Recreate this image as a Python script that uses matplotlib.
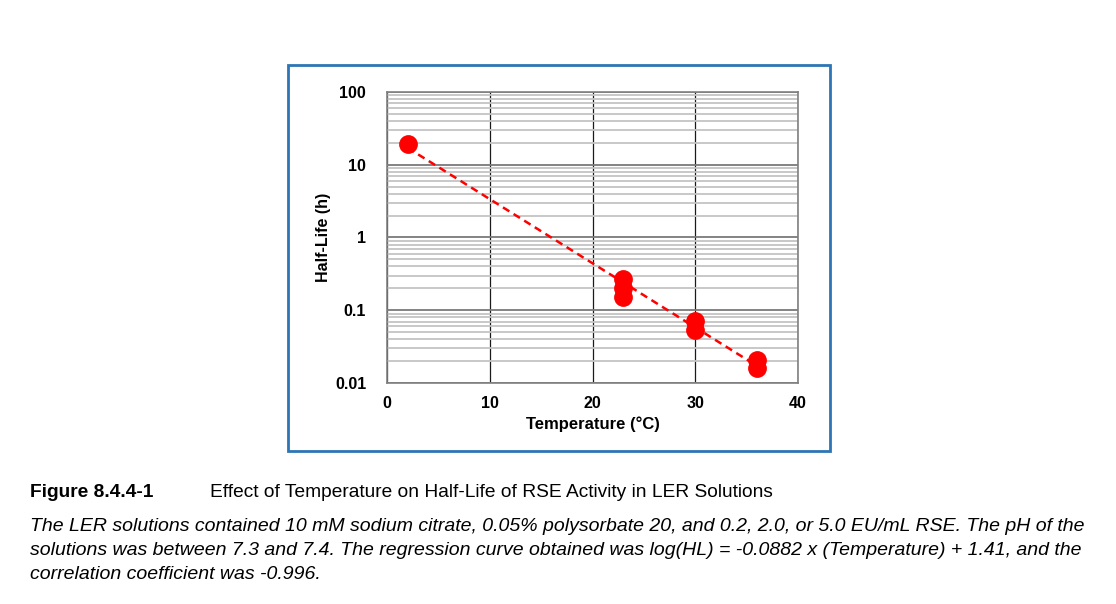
import matplotlib
matplotlib.use("Agg")
import matplotlib.pyplot as plt
from matplotlib.patches import Rectangle
from matplotlib.ticker import LogLocator, FixedLocator, NullFormatter

# ---- data ----
temperature = [2, 23, 23, 23, 30, 30, 36, 36]
half_life = [19, 0.27, 0.20, 0.15, 0.072, 0.053, 0.021, 0.016]

# regression line end points: log(HL) = -0.0882 x T + 1.41
trend_x = [2, 36]
trend_y = [17.1, 0.0172]

x_ticks = [0, 10, 20, 30, 40]
y_ticks = [0.01, 0.1, 1, 10, 100]
y_tick_labels = ["0.01", "0.1", "1", "10", "100"]

caption_num = "Figure 8.4.4-1"
caption_title = "Effect of Temperature on Half-Life of RSE Activity in LER Solutions"
caption_lines = [
    "The LER solutions contained 10 mM sodium citrate, 0.05% polysorbate 20, and 0.2, 2.0, or 5.0 EU/mL RSE. The pH of the",
    "solutions was between 7.3 and 7.4. The regression curve obtained was log(HL) = -0.0882 x (Temperature) + 1.41, and the",
    "correlation coefficient was -0.996.",
]

W, H = 1116, 604
fig = plt.figure(figsize=(W / 100, H / 100), dpi=100)

# blue frame around the chart
fig.patches.append(Rectangle((288 / W, 1 - 451 / H), (830 - 288) / W, (451 - 65) / H,
                             transform=fig.transFigure, fill=False,
                             edgecolor="#2e75b6", linewidth=2))

ax = fig.add_axes([387 / W, 1 - 383 / H, (798 - 387) / W, (383 - 92) / H])
ax.set_yscale("log")
ax.set_xlim(0, 40)
ax.set_ylim(0.01, 100)

ax.yaxis.set_major_locator(FixedLocator(y_ticks))
ax.set_yticklabels(y_tick_labels)
ax.yaxis.set_minor_locator(LogLocator(base=10, subs=range(2, 10)))
ax.yaxis.set_minor_formatter(NullFormatter())
ax.set_xticks(x_ticks)

ax.grid(which="minor", axis="y", color="#c4c4c4", linewidth=1.3)
ax.grid(which="major", axis="y", color="#7a7a7a", linewidth=1.3)
ax.grid(which="major", axis="x", color="#1a1a1a", linewidth=0.9)
ax.set_axisbelow(True)
ax.tick_params(axis="y", which="both", length=0, pad=15)
ax.tick_params(axis="x", which="both", length=0, pad=9)
for lab in ax.get_xticklabels() + ax.get_yticklabels():
    lab.set_fontweight("bold")
    lab.set_fontsize(11.5)
    lab.set_fontfamily("Liberation Sans")
for sp in ax.spines.values():
    sp.set_color("#808080")
    sp.set_linewidth(1.2)

ax.plot(trend_x, trend_y, color="#ff0000", linestyle=(0, (3, 2)), linewidth=1.8, zorder=3)
ax.plot(temperature, half_life, "o", color="#ff0000", markersize=12.5, zorder=4)

ax.set_xlabel("Temperature (\u00b0C)", fontsize=12, fontweight="bold",
              family="Liberation Sans", labelpad=4)
ax.set_ylabel("Half-Life (h)", fontsize=11.5, fontweight="bold",
              family="Liberation Sans", labelpad=3)

# caption
cap_font = ["Liberation Sans"]
fig.text(30 / W, 1 - 497 / H, caption_num, fontsize=13.8, fontweight="bold",
         family=cap_font, va="baseline", ha="left")
fig.text(210 / W, 1 - 497 / H, caption_title, fontsize=13.8,
         family=cap_font, va="baseline", ha="left")
for i, line in enumerate(caption_lines):
    fig.text(30 / W, 1 - (531 + 24 * i) / H, line, fontsize=14.0, style="italic",
             family=cap_font, va="baseline", ha="left")

fig.savefig("out.png", dpi=100)
